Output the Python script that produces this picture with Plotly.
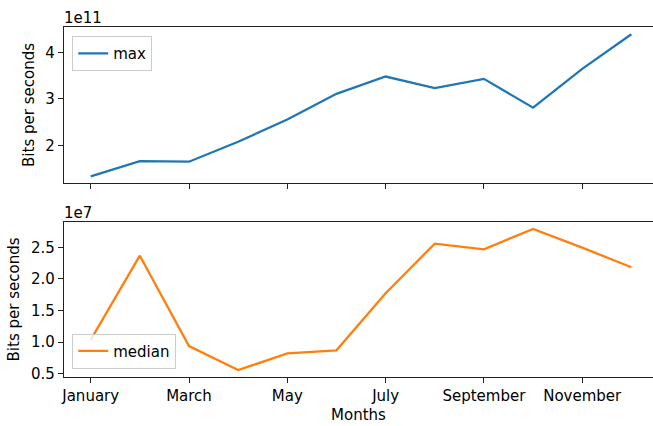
import plotly.graph_objects as go
from plotly.subplots import make_subplots

months = ["January", "February", "March", "April", "May", "June",
          "July", "August", "September", "October", "November", "December"]
max_bps = [1.333e11, 1.662e11, 1.648e11, 2.077e11, 2.555e11, 3.108e11,
           3.48e11, 3.23e11, 3.43e11, 2.81e11, 3.645e11, 4.39e11]
median_bps = [1.035e7, 2.367e7, 0.938e7, 0.558e7, 0.822e7, 0.87e7,
              1.772e7, 2.557e7, 2.468e7, 2.79e7, 2.494e7, 2.184e7]
shown_months = ["January", "March", "May", "July", "September", "November"]
max_ticks = [2e11, 3e11, 4e11]
max_ticktext = ["2", "3", "4"]
median_ticks = [0.5e7, 1.0e7, 1.5e7, 2.0e7, 2.5e7]
median_ticktext = ["0.5", "1.0", "1.5", "2.0", "2.5"]

FONT = "DejaVu Sans"
FS = 15

fig = make_subplots(rows=2, cols=1, shared_xaxes=False, vertical_spacing=0.1)

fig.add_trace(go.Scatter(x=months, y=max_bps, mode="lines", name="max",
                         line=dict(color="#1f77b4", width=2.3), legend="legend"),
              row=1, col=1)
fig.add_trace(go.Scatter(x=months, y=median_bps, mode="lines", name="median",
                         line=dict(color="#ff7f0e", width=2.3), legend="legend2"),
              row=2, col=1)

xcommon = dict(type="category", categoryorder="array", categoryarray=months,
               range=[-0.543, 11.44], showline=True, mirror=True, linecolor="#222",
               linewidth=1.2, ticks="outside", ticklen=5, tickwidth=1.2, tickcolor="#222",
               tickvals=shown_months, showgrid=False, zeroline=False,
               tickfont=dict(family=FONT, size=FS, color="black"))
fig.update_xaxes(**xcommon)
fig.update_xaxes(domain=[0, 1], showticklabels=False, row=1, col=1)
fig.update_xaxes(showticklabels=True, ticktext=shown_months,
                 title=dict(text="Months", font=dict(family=FONT, size=FS, color="black"),
                            standoff=5), row=2, col=1)

ycommon = dict(showline=True, mirror=False, linecolor="#222", linewidth=1.2,
               ticks="outside", ticklen=5, tickwidth=1.2, tickcolor="#222",
               showgrid=False, zeroline=False,
               tickfont=dict(family=FONT, size=FS, color="black"))
fig.update_yaxes(**ycommon)
fig.update_yaxes(domain=[0.5543, 1.0], range=[1.19e11, 4.545e11],
                 tickvals=max_ticks, ticktext=max_ticktext,
                 title=dict(text="Bits per seconds", font=dict(family=FONT, size=FS, color="black"),
                            standoff=7), row=1, col=1)
fig.update_yaxes(domain=[0.0, 0.4429], range=[0.448e7, 2.90e7],
                 tickvals=median_ticks, ticktext=median_ticktext,
                 title=dict(text="Bits per seconds", font=dict(family=FONT, size=FS, color="black"),
                            standoff=7), row=2, col=1)

fig.add_annotation(text="1e11", xref="paper", yref="paper", x=0, y=1.0,
                   xanchor="left", yanchor="bottom", showarrow=False,
                   font=dict(family=FONT, size=FS, color="black"), xshift=-2, yshift=-2)
fig.add_annotation(text="1e7", xref="paper", yref="paper", x=0, y=0.4429,
                   xanchor="left", yanchor="bottom", showarrow=False,
                   font=dict(family=FONT, size=FS, color="black"), xshift=-2, yshift=-2)

legend_style = dict(bgcolor="rgba(255,255,255,0.8)", bordercolor="#cccccc", borderwidth=1,
                    font=dict(family=FONT, size=FS, color="black"))
fig.update_layout(
    width=653, height=426,
    margin=dict(l=64, r=0, t=27, b=49),
    plot_bgcolor="white", paper_bgcolor="white",
    legend=dict(x=0.014, y=0.974, xanchor="left", yanchor="top", **legend_style),
    legend2=dict(x=0.014, y=0.024, xanchor="left", yanchor="bottom", **legend_style),
    showlegend=True,
)

fig.write_html("out.html", config={"displayModeBar": False},
               post_script="document.body.style.margin='0';document.body.style.padding='0';"
                           "document.documentElement.style.overflow='hidden';")
